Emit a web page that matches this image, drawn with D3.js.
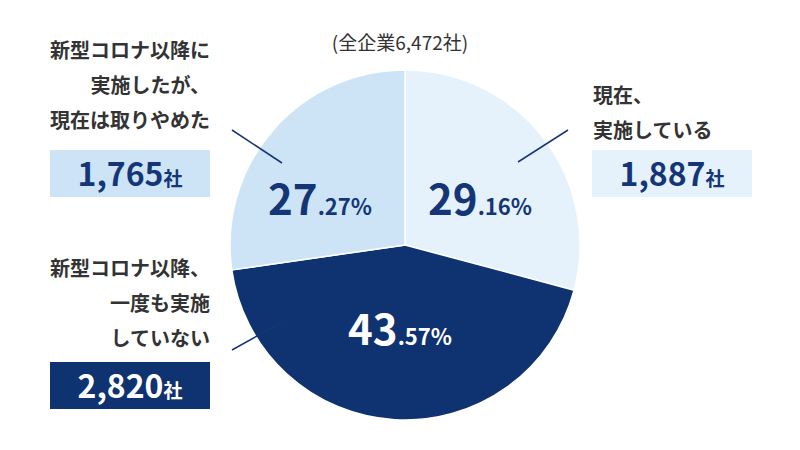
<!DOCTYPE html>
<html lang="ja">
<head>
<meta charset="utf-8">
<script src="https://cdn.jsdelivr.net/npm/d3@7"></script>
<style>
  body { margin: 0; background: #fff; }
  text { font-family: "Noto Sans CJK JP", "Noto Sans", sans-serif; }
</style>
</head>
<body>
<script>
// data
var categories = ["現在、実施している", "新型コロナ以降、一度も実施していない", "新型コロナ以降に実施したが、現在は取りやめた"];
var counts = [1887, 2820, 1765];
var shares = [29.16, 43.57, 27.27];
var fills = ["#e6f2fb", "#0f3270", "#cde4f6"];
var total = "(全企業6,472社)";

var w = 800, h = 450;
var cx = 405, cy = 245, r = 175;
var navy = "#143677";

var svg = d3.select("body").append("svg").attr("width", w).attr("height", h);

var pie = d3.pie().sort(null).value(function(d) { return d; });
var arc = d3.arc().innerRadius(0).outerRadius(r);

var g = svg.append("g").attr("transform", "translate(" + cx + "," + cy + ")");
g.selectAll("path")
  .data(pie(shares))
  .enter()
  .append("path")
  .attr("d", arc)
  .attr("fill", function(d, i) { return fills[i]; })
  .attr("stroke", "#fff")
  .attr("stroke-width", 1.5);

// percent labels
var pctPos = [[480, 215], [400, 345], [320, 215]];
shares.forEach(function(s, i) {
  var parts = s.toFixed(2).split(".");
  var t = svg.append("text")
    .attr("x", pctPos[i][0]).attr("y", pctPos[i][1])
    .attr("text-anchor", "middle")
    .attr("font-weight", 700)
    .attr("fill", i == 1 ? "#fff" : navy);
  t.append("tspan").attr("font-size", 42).text(parts[0]);
  t.append("tspan").attr("font-size", 22).text("." + parts[1] + "%");
});

// title
svg.append("text").attr("x", 400).attr("y", 50).attr("text-anchor", "middle")
  .attr("font-size", 19).attr("fill", "#333").text(total);

// category labels
var lines = [["現在、", "実施している"], ["新型コロナ以降、", "一度も実施", "していない"], ["新型コロナ以降に", "実施したが、", "現在は取りやめた"]];
var labelCfg = [
  { x: 593, y: 103, anchor: "start" },
  { x: 210, y: 276, anchor: "end" },
  { x: 210, y: 58, anchor: "end" }
];
lines.forEach(function(ls, i) {
  ls.forEach(function(l, j) {
    svg.append("text")
      .attr("x", labelCfg[i].x).attr("y", labelCfg[i].y + j * 35)
      .attr("text-anchor", labelCfg[i].anchor)
      .attr("font-size", 20).attr("font-weight", 700).attr("fill", "#333")
      .text(l);
  });
});

// count boxes
var boxes = [[592, 150], [50, 362], [50, 150]];
counts.forEach(function(c, i) {
  svg.append("rect").attr("x", boxes[i][0]).attr("y", boxes[i][1])
    .attr("width", 160).attr("height", 47).attr("fill", fills[i]);
  var t = svg.append("text").attr("x", boxes[i][0] + 80).attr("y", boxes[i][1] + 36)
    .attr("text-anchor", "middle").attr("font-weight", 700)
    .attr("fill", i == 1 ? "#fff" : navy);
  t.append("tspan").attr("font-size", 32).text(d3.format(",")(c));
  t.append("tspan").attr("font-size", 19).text("社");
});

// leader lines
var leaders = [[518, 162, 568, 130], [282, 322, 232, 350], [282, 163, 232, 130]];
leaders.forEach(function(l) {
  svg.append("line").attr("x1", l[0]).attr("y1", l[1]).attr("x2", l[2]).attr("y2", l[3])
    .attr("stroke", navy).attr("stroke-width", 1.5);
});
</script>
</body>
</html>
